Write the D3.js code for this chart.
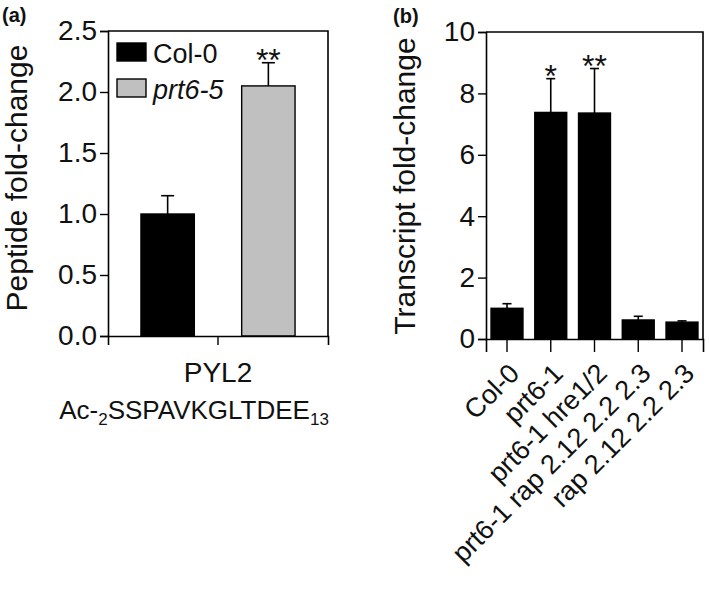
<!DOCTYPE html>
<html lang="en">
    <head>
        <meta charset="UTF-8">
        <title>Peptide and transcript fold-change</title>
        <script src="https://d3js.org/d3.v7.min.js"></script>
        <style>
            body { margin: 0; padding: 0; background: #fff; }
            svg { display: block; font-family: "Liberation Sans", Arial, sans-serif; }
        </style>
    </head>
    <body>
        <svg id="chart" width="709" height="605"></svg>

        <script>
            // panel (a)
            const aCategory = ["PYL2"];
            const aGroups = ["Col-0", "prt6-5"];
            const aValues = [1.0, 2.05];
            const aErrors = [0.15, 0.19];
            const aSig = ["", "**"];
            const aColors = ["#000000", "#c0c0c0"];
            const aTicks = [0, 0.5, 1.0, 1.5, 2.0, 2.5];

            // panel (b)
            const bCategories = ["Col-0", "prt6-1", "prt6-1 hre1/2", "prt6-1 rap 2.12 2.2 2.3", "rap 2.12 2.2 2.3"];
            const bValues = [1.0, 7.38, 7.36, 0.62, 0.55];
            const bErrors = [0.15, 1.1, 1.45, 0.12, 0.04];
            const bSig = ["", "*", "**", "", ""];
            const bTicks = [0, 2, 4, 6, 8, 10];

            const svg = d3.select("#chart");
            const tickFs = 28;
            const titleFs = 30;
            const ink = "#111";

            function frame(g, x0, x1, y0, y1) {
                g.append("path")
                    .attr("d", `M${x0},${y1}H${x1}V${y0}`)
                    .attr("fill", "none").attr("stroke", "#000").attr("stroke-width", 1.6);
            }

            function yAxis(g, y, x, ticks, fmt) {
                const ax = g.append("g")
                    .attr("transform", `translate(${x},0)`)
                    .call(d3.axisLeft(y).tickValues(ticks).tickFormat(fmt).tickSizeOuter(0).tickSize(8).tickPadding(3));
                ax.select(".domain").attr("stroke-width", 1.6);
                ax.selectAll(".tick line").attr("stroke-width", 1.4);
                ax.selectAll("text").attr("font-size", tickFs).attr("font-family", "Liberation Sans, Arial").attr("fill", ink);
                return ax;
            }

            // error bar + bar + star for one panel
            function drawBars(g, keys, xPos, width, y, values, errors, fills, sig, cap) {
                const grp = g.selectAll(null).data(keys).enter().append("g");
                const cx = (d) => xPos(d) + width / 2;
                grp.append("line")
                    .attr("x1", cx).attr("x2", cx)
                    .attr("y1", (d, i) => y(values[i]))
                    .attr("y2", (d, i) => y(values[i] + errors[i]))
                    .attr("stroke", "#000").attr("stroke-width", 1.6);
                grp.append("line")
                    .attr("x1", (d) => cx(d) - cap).attr("x2", (d) => cx(d) + cap)
                    .attr("y1", (d, i) => y(values[i] + errors[i]))
                    .attr("y2", (d, i) => y(values[i] + errors[i]))
                    .attr("stroke", "#000").attr("stroke-width", 1.6);
                grp.append("rect")
                    .attr("x", xPos)
                    .attr("width", width)
                    .attr("y", (d, i) => y(values[i]))
                    .attr("height", (d, i) => y(0) - y(values[i]))
                    .attr("fill", (d, i) => fills[i])
                    .attr("stroke", "#000").attr("stroke-width", 1.4);
                grp.append("text")
                    .attr("x", cx)
                    .attr("y", (d, i) => y(values[i] + errors[i]) + 8)
                    .attr("text-anchor", "middle")
                    .attr("font-size", 32).attr("fill", ink)
                    .text((d, i) => sig[i]);
            }

            // ---------- (a) ----------
            const ga = svg.append("g");
            const ya = d3.scaleLinear().domain([0, 2.5]).range([336, 31]);
            const xa0 = d3.scaleBand().domain(aCategory).range([108, 328]).paddingOuter(0.17);
            const xa1 = d3.scaleBand().domain(aGroups).range([0, xa0.bandwidth()]).paddingInner(0.47).paddingOuter(0.05);

            frame(ga, 108, 328, 336, 31);
            drawBars(ga, aGroups, (d) => xa0("PYL2") + xa1(d), xa1.bandwidth(), ya,
                aValues, aErrors, aColors, aSig, 6.5);

            yAxis(ga, ya, 108, aTicks, d3.format(".1f"));

            const xaAxis = ga.append("g")
                .attr("transform", "translate(0,336)")
                .call(d3.axisBottom(xa0).tickSizeOuter(0).tickSize(9).tickPadding(10));
            xaAxis.select(".domain").attr("stroke-width", 1.6);
            xaAxis.selectAll(".tick line").attr("stroke-width", 1.4);
            xaAxis.selectAll("text")
                .attr("font-size", tickFs).attr("fill", ink).attr("font-family", "Liberation Sans, Arial")
                .attr("y", 46).attr("dy", 0);

            // legend (a)
            const legA = ga.selectAll(".legA").data(aGroups).enter().append("g")
                .attr("transform", (d, i) => `translate(117,${43 + i * 36})`);
            legA.append("rect").attr("width", 29).attr("height", 18)
                .attr("fill", (d, i) => aColors[i]).attr("stroke", "#000").attr("stroke-width", 1.4);
            legA.append("text").attr("x", 36).attr("y", 20)
                .attr("font-size", 27).attr("fill", ink)
                .attr("font-style", (d, i) => i === 1 ? "italic" : "normal")
                .text((d) => d);

            ga.append("text")
                .attr("transform", "translate(27,178) rotate(-90)")
                .attr("text-anchor", "middle").attr("font-size", titleFs).attr("fill", ink)
                .text("Peptide fold-change");

            const seq = ga.append("text")
                .attr("x", 194).attr("y", 419)
                .attr("text-anchor", "middle").attr("font-size", 26).attr("fill", ink);
            seq.append("tspan").text("Ac-");
            seq.append("tspan").attr("font-size", 17).attr("dy", 6).text("2");
            seq.append("tspan").attr("dy", -6).text("SSPAVKGLTDEE");
            seq.append("tspan").attr("font-size", 17).attr("dy", 6).text("13");

            ga.append("text").attr("x", 2).attr("y", 22)
                .attr("font-size", 20).attr("font-weight", "bold").attr("fill", ink).text("(a)");

            // ---------- (b) ----------
            const gb = svg.append("g");
            const yb = d3.scaleLinear().domain([0, 10]).range([339, 32]);
            const xb = d3.scaleBand().domain(bCategories).range([486, 703]).paddingInner(0.27).paddingOuter(0.115);

            frame(gb, 486, 703, 339, 32);
            drawBars(gb, bCategories, xb, xb.bandwidth(), yb,
                bValues, bErrors, bCategories.map(() => "#000"), bSig, 4.5);

            yAxis(gb, yb, 486, bTicks, d3.format("d"));

            const xbAxis = gb.append("g")
                .attr("transform", "translate(0,339)")
                .call(d3.axisBottom(xb).tickSizeOuter(0).tickSize(13));
            xbAxis.select(".domain").attr("stroke-width", 1.6);
            xbAxis.selectAll(".tick line").attr("stroke-width", 1.4);
            xbAxis.selectAll("text")
                .attr("font-size", 27).attr("fill", ink).attr("font-family", "Liberation Sans, Arial")
                .attr("text-anchor", "end")
                .attr("x", 0).attr("y", 0).attr("dy", 0)
                .attr("transform", "translate(14,36) rotate(-45)");

            gb.append("text")
                .attr("transform", "translate(415,186) rotate(-90)")
                .attr("text-anchor", "middle").attr("font-size", titleFs).attr("fill", ink)
                .text("Transcript fold-change");

            gb.append("text").attr("x", 393).attr("y", 23)
                .attr("font-size", 20).attr("font-weight", "bold").attr("fill", ink).text("(b)");
        </script>
    </body>
</html>
